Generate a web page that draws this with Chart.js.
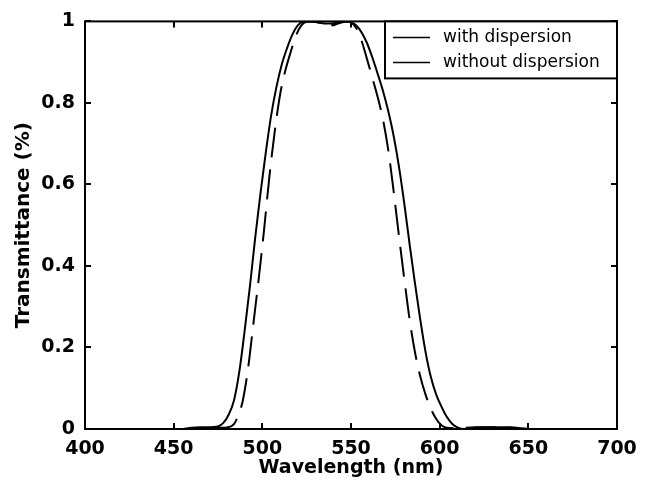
<!DOCTYPE html>
<html>
<head>
<meta charset="utf-8">
<script src="https://cdn.jsdelivr.net/npm/chart.js@4.4.1/dist/chart.umd.min.js"></script>
<style>
  html, body { margin: 0; padding: 0; background: #fff; }
  #wrap { width: 648px; height: 485px; }
</style>
</head>
<body>
<div id="wrap"><canvas id="chart" width="648" height="485"></canvas></div>
<script>
// series: with dispersion (solid)
const wlWith = [400, 455, 460, 465, 470, 475, 478, 481, 484, 487, 490, 493, 496, 499, 502, 505, 508, 511, 514, 517,
    520, 523, 527, 531, 535, 539, 543, 547, 550, 553, 556, 559, 562, 565, 568, 571, 574, 577, 580, 583,
    586, 589, 592, 595, 598, 601, 604, 607, 610, 614, 620, 630, 640, 645, 650, 700];
const tWith = [0, 0, 0.003, 0.004, 0.004, 0.006, 0.015, 0.035, 0.07, 0.14, 0.24, 0.35, 0.47, 0.58, 0.68, 0.77, 0.84, 0.895, 0.935, 0.968,
    0.99, 0.999, 1.0, 0.998, 0.995, 0.995, 0.998, 1.0, 0.998, 0.99, 0.973, 0.947, 0.912, 0.872, 0.83, 0.78, 0.72, 0.645, 0.555, 0.455,
    0.36, 0.27, 0.19, 0.128, 0.085, 0.055, 0.03, 0.013, 0.004, 0, 0.003, 0.004, 0.004, 0.002, 0, 0];

// series: without dispersion (dashed)
const wlWithout = [400, 470, 475, 480, 484, 487, 489, 492, 495, 498, 501, 504, 507, 510, 513, 516, 519, 522, 525, 529,
    533, 537, 541, 545, 548, 551, 553, 556, 559, 562, 565, 568, 571, 574, 577, 580, 583, 586, 589, 592,
    595, 598, 601, 604, 610, 620, 630, 640, 645, 650, 700];
const tWithout = [0, 0, 0.003, 0.004, 0.012, 0.04, 0.07, 0.15, 0.26, 0.37, 0.49, 0.62, 0.73, 0.82, 0.88, 0.925, 0.965, 0.99, 0.999, 1.0,
    0.995, 0.99, 0.992, 0.998, 1.0, 0.994, 0.983, 0.952, 0.908, 0.862, 0.815, 0.76, 0.685, 0.585, 0.475, 0.37, 0.27, 0.19, 0.13, 0.085,
    0.05, 0.025, 0.009, 0.003, 0.002, 0.004, 0.004, 0.003, 0.001, 0, 0];

const xTicks = [400, 450, 500, 550, 600, 650, 700];
const yTicks = [0, 0.2, 0.4, 0.6, 0.8, 1];
const legendLabels = ['with dispersion', 'without dispersion'];

Chart.defaults.font.family = 'DejaVu Sans';
Chart.defaults.color = '#000';

function toPoints(xs, ys) {
    return xs.map((x, i) => ({ x: x, y: ys[i] }));
}

// frame, inward ticks and boxed legend like the original figure
const matlabAxes = {
    id: 'matlabAxes',
    afterDraw(chart) {
        const ctx = chart.ctx;
        const a = chart.chartArea;
        const xs = chart.scales.x, ys = chart.scales.y;
        ctx.save();
        ctx.strokeStyle = '#000';
        ctx.lineWidth = 2;
        ctx.beginPath();
        xTicks.forEach(v => {
            const px = Math.round(xs.getPixelForValue(v));
            ctx.moveTo(px, a.bottom); ctx.lineTo(px, a.bottom - 6);
            ctx.moveTo(px, a.top); ctx.lineTo(px, a.top + 6);
        });
        yTicks.forEach(v => {
            const py = Math.round(ys.getPixelForValue(v));
            ctx.moveTo(a.left, py); ctx.lineTo(a.left + 6, py);
            ctx.moveTo(a.right, py); ctx.lineTo(a.right - 6, py);
        });
        ctx.stroke();
        ctx.strokeRect(a.left, a.top, a.right - a.left, a.bottom - a.top);

        // legend box
        const bx = a.right - 232, by = a.top, bw = 232, bh = 57;
        ctx.fillStyle = '#fff';
        ctx.fillRect(bx, by, bw, bh);
        ctx.strokeRect(bx, by, bw, bh);
        ctx.lineWidth = 1.5;
        ctx.fillStyle = '#000';
        ctx.font = '17px "DejaVu Sans"';
        ctx.textBaseline = 'middle';
        legendLabels.forEach((t, i) => {
            const ly = by + 16 + i * 25;
            ctx.beginPath();
            ctx.moveTo(bx + 8, ly); ctx.lineTo(bx + 45, ly);
            ctx.stroke();
            ctx.fillText(t, bx + 58, ly);
        });
        ctx.restore();
    }
};

new Chart(document.getElementById('chart'), {
    type: 'line',
    data: {
        datasets: [
            {
                label: legendLabels[0],
                data: toPoints(wlWith, tWith),
                borderColor: '#000',
                borderWidth: 2,
                pointRadius: 0,
                cubicInterpolationMode: 'monotone'
            },
            {
                label: legendLabels[1],
                data: toPoints(wlWithout, tWithout),
                borderColor: '#000',
                borderWidth: 2,
                borderDash: [30, 12],
                pointRadius: 0,
                cubicInterpolationMode: 'monotone'
            }
        ]
    },
    options: {
        responsive: false,
        animation: false,
        layout: { padding: { left: 0, top: 17, right: 31, bottom: 0 } },
        plugins: { legend: { display: false }, tooltip: { enabled: false } },
        scales: {
            x: {
                type: 'linear',
                min: 400, max: 700,
                afterFit: s => { s.height = 56; },
                afterBuildTicks: s => { s.ticks = xTicks.map(v => ({ value: v })); },
                grid: { display: false, drawTicks: false },
                border: { display: false },
                ticks: { padding: 9, font: { size: 19, weight: 'bold' }, maxRotation: 0 },
                title: {
                    display: true, text: 'Wavelength (nm)',
                    font: { size: 19, weight: 'bold' },
                    padding: { top: 0, bottom: 6 }
                }
            },
            y: {
                min: 0, max: 1,
                afterFit: s => { s.width = 85; },
                afterBuildTicks: s => { s.ticks = yTicks.map(v => ({ value: v })); },
                grid: { display: false, drawTicks: false },
                border: { display: false },
                ticks: { padding: 10, font: { size: 19, weight: 'bold' }, callback: v => String(v) },
                title: {
                    display: true, text: 'Transmittance (%)',
                    font: { size: 20, weight: 'bold' },
                    padding: { top: 12, bottom: 0 }
                }
            }
        }
    },
    plugins: [matlabAxes]
});
</script>
</body>
</html>
